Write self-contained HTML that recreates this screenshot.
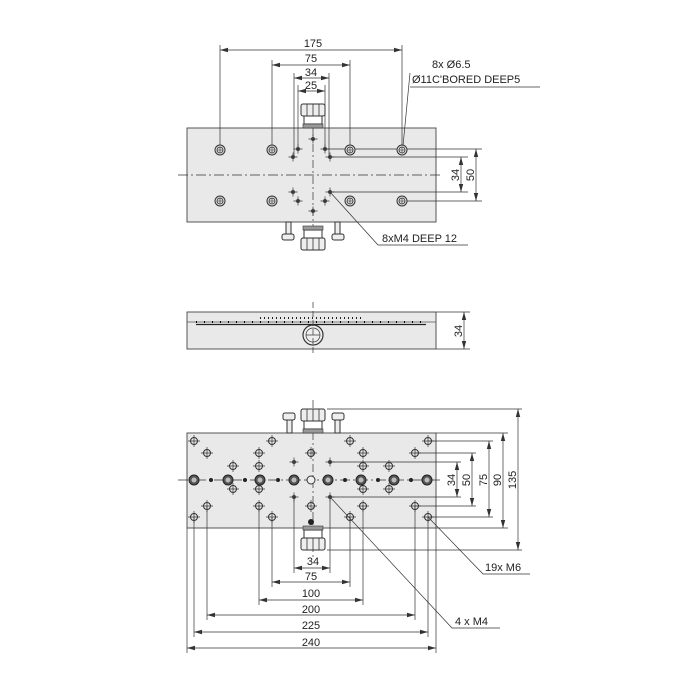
<!DOCTYPE html>
<html><head><style>
body{margin:0;background:#fff}
svg{display:block}
text{font-family:"Liberation Sans",sans-serif;font-size:11px;fill:#222}
</style></head><body>
<svg width="700" height="700" viewBox="0 0 700 700" xmlns="http://www.w3.org/2000/svg">
<defs>
<marker id="a" markerWidth="8" markerHeight="6" refX="8" refY="3" orient="auto-start-reverse" markerUnits="userSpaceOnUse"><path d="M0,0.8 L8,3 L0,5.2" fill="#333"/></marker>
<g id="cb"><circle r="5" fill="#ddd" stroke="#333" stroke-width="1"/><circle r="3" fill="none" stroke="#333" stroke-width="0.8"/><path d="M-3,0H3M0,-3V3" stroke="#333" stroke-width="0.6"/></g>
<g id="m4"><circle r="2" fill="#444"/><path d="M-4.5,0H4.5M0,-4.5V4.5" stroke="#333" stroke-width="0.7"/></g>
<g id="m6"><circle r="3.5" fill="none" stroke="#333" stroke-width="1"/><path d="M-6,0H6M0,-6V6" stroke="#333" stroke-width="0.7"/></g>
<g id="big"><circle r="5" fill="#555" stroke="#222" stroke-width="1"/><circle r="2.5" fill="#bbb"/></g>
<g id="knob"><rect x="-12" y="0" width="24" height="12" rx="2" fill="#eee" stroke="#333"/><path d="M-6,0V12M0,0V12M6,0V12" stroke="#333" stroke-width="0.8"/><rect x="-9" y="12" width="18" height="8" fill="#fff" stroke="#333"/><rect x="-10" y="20" width="20" height="4" fill="#999" stroke="#333" stroke-width="0.6"/></g>
</defs>
<g stroke="#333" stroke-width="0.7" fill="none">

<!-- TOP VIEW -->
<rect x="187" y="128" width="249" height="94" fill="#e9e9e9" stroke="#555" stroke-width="1"/>
<path d="M178,175H440" stroke-dasharray="10,3,2,3"/>
<path d="M313,112V250" stroke-dasharray="8,3,2,3"/>
<!-- dims -->
<path d="M220,45V150M402,45V150M272,60V150M350,60V150M294,73V157M329,73V157M298,85V149M325,85V149"/>
<path d="M220,50H402" marker-start="url(#a)" marker-end="url(#a)"/>
<path d="M272,65H350" marker-start="url(#a)" marker-end="url(#a)"/>
<path d="M294,78H329" marker-start="url(#a)" marker-end="url(#a)"/>
<path d="M298,91H325" marker-start="url(#a)" marker-end="url(#a)"/>
<path d="M324,149H482M402,201H482M330,157H468M330,192H468"/>
<path d="M476,149V201" marker-start="url(#a)" marker-end="url(#a)"/>
<path d="M461,157V192" marker-start="url(#a)" marker-end="url(#a)"/>
<path d="M403,146L410,73M410,87H540"/>
<path d="M330,192L378,245H468"/>

<!-- MIDDLE VIEW -->
<rect x="187" y="312" width="249" height="37" fill="#e9e9e9" stroke="#555" stroke-width="1"/>
<path d="M187,322H436" stroke="#555"/>
<path d="M196,322H426" stroke="#000" stroke-width="2" stroke-dasharray="1,7"/>
<path d="M196,324.5H426" stroke="#222" stroke-width="1.2"/>
<path d="M260,318H362" stroke="#222" stroke-width="2" stroke-dasharray="1,3"/>
<circle cx="313" cy="335" r="10" fill="#eee" stroke="#333" stroke-width="1.2"/>
<circle cx="313" cy="335" r="7" stroke="#333"/>
<path d="M306,335H320"/>
<path d="M313,302V355" stroke-dasharray="6,3"/>
<path d="M436,312H470M436,349H470"/>
<path d="M464,312V349" marker-start="url(#a)" marker-end="url(#a)"/>

<!-- BOTTOM VIEW -->
<rect x="187" y="433" width="249" height="95" fill="#e9e9e9" stroke="#555" stroke-width="1"/>
<path d="M178,480H440" stroke-dasharray="10,3,2,3"/>
<path d="M313,400V560" stroke-dasharray="8,3,2,3"/>
<!-- bottom ext lines -->
<path d="M194,517V637M207,506V620M259,506V605M272,517V587M294,497V573M330,497V573M350,517V587M363,506V605M415,506V620M428,517V637M187,528V653M436,528V653"/>
<path d="M294,568H330" marker-start="url(#a)" marker-end="url(#a)"/>
<path d="M272,582H350" marker-start="url(#a)" marker-end="url(#a)"/>
<path d="M259,600H363" marker-start="url(#a)" marker-end="url(#a)"/>
<path d="M207,615H415" marker-start="url(#a)" marker-end="url(#a)"/>
<path d="M194,632H428" marker-start="url(#a)" marker-end="url(#a)"/>
<path d="M187,648H436" marker-start="url(#a)" marker-end="url(#a)"/>
<!-- right ext lines -->
<path d="M330,462H461M330,497H461M415,453H476M415,506H476M428,441H493M428,517H493M436,433H508M436,528H508M327,409H522M327,550H522"/>
<path d="M457,462V497" marker-start="url(#a)" marker-end="url(#a)"/>
<path d="M472,453V506" marker-start="url(#a)" marker-end="url(#a)"/>
<path d="M489,441V517" marker-start="url(#a)" marker-end="url(#a)"/>
<path d="M503,433V528" marker-start="url(#a)" marker-end="url(#a)"/>
<path d="M518,409V550" marker-start="url(#a)" marker-end="url(#a)"/>
<path d="M428,517L483,574H530"/>
<path d="M330,497L452,628H500"/>
</g>

<!-- top view holes -->
<use href="#cb" x="220" y="150"/><use href="#cb" x="272" y="150"/><use href="#cb" x="350" y="150"/><use href="#cb" x="402" y="150"/>
<use href="#cb" x="220" y="201"/><use href="#cb" x="272" y="201"/><use href="#cb" x="350" y="201"/><use href="#cb" x="402" y="201"/>
<use href="#m4" x="298" y="149"/><use href="#m4" x="325" y="149"/><use href="#m4" x="293" y="157"/><use href="#m4" x="330" y="157"/>
<use href="#m4" x="293" y="192"/><use href="#m4" x="330" y="192"/><use href="#m4" x="298" y="201"/><use href="#m4" x="325" y="201"/>
<use href="#m4" x="313" y="139"/><use href="#m4" x="313" y="211"/>
<use href="#knob" x="313" y="104"/>
<g transform="translate(313,250) scale(1,-1)"><use href="#knob"/></g>
<g stroke="#333" fill="#eee"><rect x="286" y="222" width="5" height="14"/><rect x="335" y="222" width="5" height="14"/><rect x="282" y="234" width="12" height="6" rx="2"/><rect x="332" y="234" width="12" height="6" rx="2"/></g>

<!-- bottom view knobs -->
<g stroke="#333" fill="#eee"><rect x="287" y="418" width="5" height="15"/><rect x="335" y="418" width="5" height="15"/><rect x="283" y="413" width="12" height="7" rx="2"/><rect x="332" y="413" width="12" height="7" rx="2"/></g>
<use href="#knob" x="313" y="409"/>
<g transform="translate(313,550) scale(1,-1)"><use href="#knob"/></g>
<!-- bottom view holes -->
<g>
<use href="#m6" x="194" y="441"/><use href="#m6" x="272" y="441"/><use href="#m6" x="350" y="441"/><use href="#m6" x="428" y="441"/>
<use href="#m6" x="207" y="453"/><use href="#m6" x="259" y="453"/><use href="#m6" x="311" y="453"/><use href="#m6" x="363" y="453"/><use href="#m6" x="415" y="453"/>
<use href="#m4" x="294" y="462"/><use href="#m4" x="330" y="462"/><use href="#m4" x="294" y="497"/><use href="#m4" x="330" y="497"/>
<use href="#m6" x="233" y="466"/><use href="#m6" x="259" y="466"/><use href="#m6" x="363" y="466"/><use href="#m6" x="389" y="466"/>
<use href="#m6" x="233" y="489"/><use href="#m6" x="259" y="489"/><use href="#m6" x="363" y="489"/><use href="#m6" x="389" y="489"/>
<use href="#big" x="194" y="480"/><use href="#big" x="228" y="480"/><use href="#big" x="260" y="480"/><use href="#big" x="294" y="480"/><use href="#big" x="328" y="480"/><use href="#big" x="361" y="480"/><use href="#big" x="394" y="480"/><use href="#big" x="427" y="480"/>
<circle cx="211" cy="480" r="2" fill="#222"/><circle cx="245" cy="480" r="2" fill="#222"/><circle cx="278" cy="480" r="2" fill="#222"/><circle cx="345" cy="480" r="2" fill="#222"/><circle cx="378" cy="480" r="2" fill="#222"/><circle cx="411" cy="480" r="2" fill="#222"/>
<circle cx="311" cy="480" r="4" fill="#eee" stroke="#333"/>
<use href="#m6" x="207" y="506"/><use href="#m6" x="259" y="506"/><use href="#m6" x="311" y="506"/><use href="#m6" x="363" y="506"/><use href="#m6" x="415" y="506"/>
<use href="#m6" x="194" y="517"/><use href="#m6" x="272" y="517"/><use href="#m6" x="350" y="517"/><use href="#m6" x="428" y="517"/>
<circle cx="311" cy="522" r="3" fill="#222"/>
</g>

<!-- texts -->
<g text-anchor="middle">
<text x="313" y="47">175</text><text x="311" y="62">75</text><text x="311" y="76">34</text><text x="311" y="89">25</text>
<text x="313" y="565">34</text><text x="311" y="580">75</text><text x="311" y="597">100</text><text x="311" y="613">200</text><text x="311" y="629">225</text><text x="311" y="646">240</text>
</g>
<text x="432" y="68">8x Ø6.5</text>
<text x="412" y="83">Ø11C'BORED DEEP5</text>
<text x="382" y="242">8xM4 DEEP 12</text>
<text x="485" y="571">19x M6</text>
<text x="455" y="625">4 x M4</text>
<g>
<text transform="translate(459,175) rotate(-90)" text-anchor="middle">34</text>
<text transform="translate(474,175) rotate(-90)" text-anchor="middle">50</text>
<text transform="translate(462,331) rotate(-90)" text-anchor="middle">34</text>
<text transform="translate(455,480) rotate(-90)" text-anchor="middle">34</text>
<text transform="translate(470,480) rotate(-90)" text-anchor="middle">50</text>
<text transform="translate(487,480) rotate(-90)" text-anchor="middle">75</text>
<text transform="translate(501,480) rotate(-90)" text-anchor="middle">90</text>
<text transform="translate(516,480) rotate(-90)" text-anchor="middle">135</text>
</g>
</svg>
</body></html>
